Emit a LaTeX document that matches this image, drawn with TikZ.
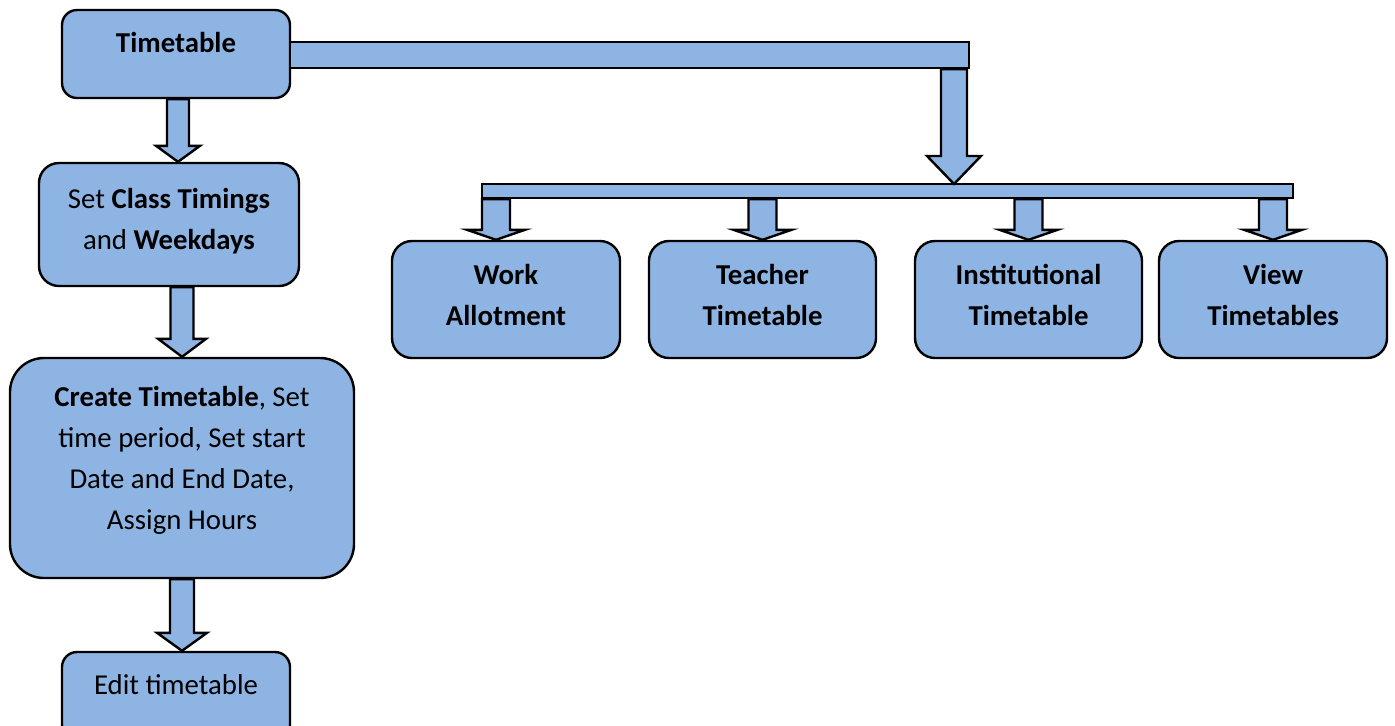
\documentclass[tikz,border=0pt]{standalone}
\usepackage{fontspec}
\setmainfont{Carlito}
\usepackage{tikz}
\usetikzlibrary{calc}

\definecolor{boxblue}{HTML}{8EB4E3}

\tikzset{
  box/.style={draw=black, line width=1.2pt, fill=boxblue, rounded corners=#1, align=center, inner sep=2pt},
  box/.default=8pt,
  heading/.style={font=\fontsize{14.4}{20.5}\selectfont\bfseries},
  bar/.style={draw=black, line width=1.2pt, fill=boxblue, inner sep=0pt},
  blk/.style={draw=black, line width=1.2pt, fill=boxblue, line join=miter},
  raised/.style={text height=10pt, text depth=11.6pt}
}

% extra depth under the last line, lifts the text a little
\newcommand{\lift}[1]{\rule[-#1]{0pt}{0pt}}

% block arrow: from, tip, half shaft, half head, head length
\newcommand{\blockdown}[5]{%
  \draw[blk] ($(#2 |- #1)+(-#3,0)$) -- ($(#2)+(-#3,-#5)$) -- ($(#2)+(-#4,-#5)$) -- (#2)
    -- ($(#2)+(#4,-#5)$) -- ($(#2)+(#3,-#5)$) -- ($(#2 |- #1)+(#3,0)$) -- cycle;}

\begin{document}
\begin{tikzpicture}[x=0.5pt, y=-0.5pt, font=\fontsize{14.4}{20.5}\selectfont]
  \useasboundingbox (0,0) rectangle (1395,725);
  \clip (0,0) rectangle (1395,725);

  % left column
  \node[box=7.5pt, raised, minimum width=114pt, minimum height=44pt] (tt) at (176,54) {\textbf{Timetable}};
  \node[box=10pt, minimum width=130pt, minimum height=61.5pt] (setup) at (169,224.5)
    {Set \textbf{Class Timings}\\and \textbf{Weekdays}\lift{6pt}};
  \node[box=17pt, minimum width=172pt, minimum height=110pt] (create) at (182,468)
    {\textbf{Create Timetable}, Set\\time period, Set start\\Date and End Date,\\Assign Hours\lift{10pt}};
  \node[box=7.5pt, raised, minimum width=114pt, minimum height=44pt] (edit) at (176,696) {Edit timetable};
  \coordinate (setuptip) at (setup.north -| 178,0);
  \coordinate (edittip) at (edit.north -| create.south);

  % right branch
  \node[bar, minimum width=339.5pt, minimum height=13pt] (topbar) at (629.5,55) {};
  \node[bar, minimum width=405.5pt, minimum height=7pt] (lowbar) at (887.5,191) {};
  \coordinate (drop) at (954,184);

  \node[box=10pt, heading, minimum width=114pt, minimum height=58.5pt] (work) at (506,299.5) {Work\\Allotment\lift{4.5pt}};
  \node[box=10pt, heading, minimum width=113.5pt, minimum height=58.5pt] (teacher) at (762.5,299.5) {Teacher\\Timetable\lift{4.5pt}};
  \node[box=10pt, heading, minimum width=113.5pt, minimum height=58.5pt] (inst) at (1028.5,299.5) {Institutional\\Timetable\lift{4.5pt}};
  \node[box=10pt, heading, minimum width=114pt, minimum height=58.5pt] (view) at (1273,299.5) {View\\Timetables\lift{4.5pt}};
  \coordinate (worktip) at ([xshift=-5pt]work.north);

  % arrows
  \blockdown{tt.south}{setuptip}{11}{22}{16}
  \blockdown{setup.south}{create.north}{11.5}{24}{18}
  \blockdown{create.south}{edittip}{12}{25}{18}
  \blockdown{topbar.south}{drop}{13}{27}{28}
  \blockdown{lowbar.south}{worktip}{14}{29}{10}
  \blockdown{lowbar.south}{teacher.north}{14}{29}{10}
  \blockdown{lowbar.south}{inst.north}{14}{29}{10}
  \blockdown{lowbar.south}{view.north}{14}{29}{10}
\end{tikzpicture}
\end{document}
